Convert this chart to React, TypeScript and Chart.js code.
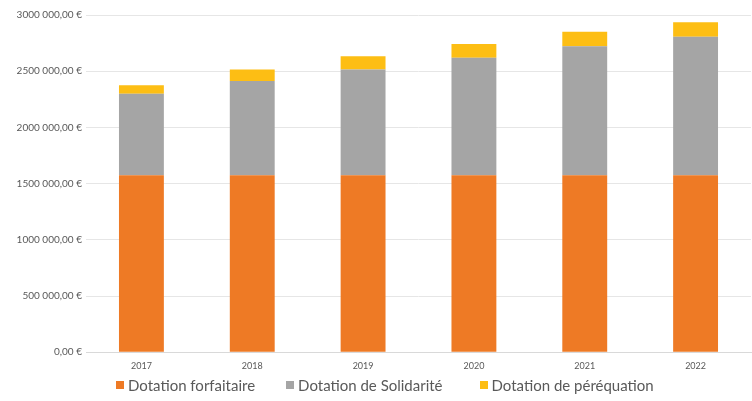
import React, { useEffect, useRef } from "react";
import { Chart, registerables } from "chart.js";

Chart.register(...registerables);

const years = ["2017", "2018", "2019", "2020", "2021", "2022"];
const forfaitaire = [1575000, 1575000, 1575000, 1575000, 1575000, 1575000];
const solidarite = [725000, 838000, 940000, 1044000, 1148000, 1231000];
const perequation = [75000, 102000, 119000, 122000, 128000, 129000];
const seriesNames = ["Dotation forfaitaire", "Dotation de Solidarité", "Dotation de péréquation"];
const seriesColors = ["#EE7A25", "#A5A5A5", "#FDBE14"];
const legendGaps = [31, 37, 0];

function formatEuro(v: number): string {
  const s = Math.round(v).toString();
  let intPart: string;
  if (s.length > 3) {
    intPart = s.slice(0, s.length - 3) + "\u00a0" + s.slice(s.length - 3);
  } else {
    intPart = s;
  }
  return intPart + ",00\u00a0€";
}

export default function App() {
  const ref = useRef<HTMLCanvasElement | null>(null);

  useEffect(() => {
    document.body.style.margin = "0";
    if (!ref.current) return;
    const chart = new Chart(ref.current, {
      type: "bar",
      data: {
        labels: years,
        datasets: [
          { label: seriesNames[0], data: forfaitaire, backgroundColor: seriesColors[0] },
          { label: seriesNames[1], data: solidarite, backgroundColor: seriesColors[1] },
          { label: seriesNames[2], data: perequation, backgroundColor: seriesColors[2] },
        ],
      },
      options: {
        animation: false,
        responsive: false,
        maintainAspectRatio: false,
        layout: { padding: { top: 15, right: 1, left: 0, bottom: 2 } },
        datasets: { bar: { categoryPercentage: 1, barPercentage: 0.405 } },
        plugins: { legend: { display: false }, tooltip: { enabled: false } },
        scales: {
          x: {
            stacked: true,
            grid: { display: false, drawTicks: false },
            border: { display: true, color: "#D9D9D9", width: 1 },
            ticks: {
              color: "#595959",
              padding: 8,
              font: { family: "Lato", size: 9 },
            },
          },
          y: {
            stacked: true,
            min: 0,
            max: 3000000,
            afterFit: (scale: any) => {
              scale.width = 86;
            },
            grid: { color: "#E6E6E6", drawTicks: false, lineWidth: 1 },
            border: { display: false },
            ticks: {
              stepSize: 500000,
              color: "#595959",
              padding: 4,
              font: { family: "Lato", size: 10 },
              callback: (v: any) => formatEuro(Number(v)),
            },
          },
        },
      },
    });
    return () => chart.destroy();
  }, []);

  return (
    <div style={{ position: "absolute", left: 0, top: 0, width: 752, height: 401, background: "#fff", overflow: "hidden" }}>
      <canvas ref={ref} width={752} height={381} style={{ display: "block", width: 752, height: 381 }} />
      <div
        style={{
          position: "absolute",
          left: 116,
          top: 376,
          display: "flex",
          alignItems: "center",
          fontFamily: "Lato",
          fontSize: 15,
          color: "#595959",
          lineHeight: "18px",
          whiteSpace: "nowrap",
        }}
      >
        {seriesNames.map((n, i) => (
          <div key={n} style={{ display: "flex", alignItems: "center", marginRight: legendGaps[i] }}>
            <span style={{ display: "inline-block", width: 8, height: 8, background: seriesColors[i], marginRight: 4 }} />
            <span>{n}</span>
          </div>
        ))}
      </div>
    </div>
  );
}
